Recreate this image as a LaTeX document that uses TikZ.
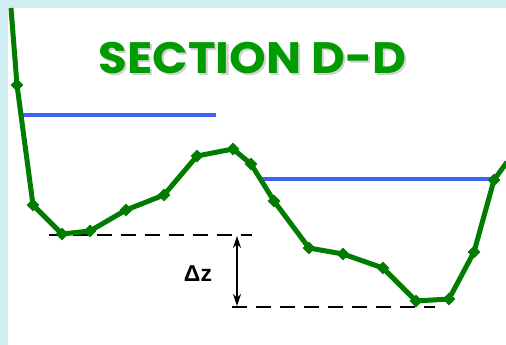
\documentclass[tikz,border=0pt]{standalone}
\usepackage{fontspec}
\setmainfont{Liberation Sans}
\newfontfamily\titlefont{Poppins}
\usetikzlibrary{shapes.geometric,arrows.meta}
\definecolor{bgcyan}{RGB}{208,238,242}
\definecolor{linegreen}{RGB}{0,125,0}
\definecolor{titlegreen}{RGB}{0,155,0}
\definecolor{waterblue}{RGB}{60,100,245}
\tikzset{
  mk/.style={diamond,fill=linegreen,inner sep=0pt,minimum size=13pt},
  bed/.style={draw=linegreen,line width=5pt,line join=round},
  water/.style={draw=waterblue,line width=4.6pt},
  datum/.style={draw=black,line width=2.8pt,dash pattern=on 15pt off 9pt},
  dimarrow/.style={draw=black,line width=1.2pt,{Stealth[length=12pt,width=8pt]}-{Stealth[length=12pt,width=8pt]}},
  titletext/.style={font=\titlefont\bfseries\fontsize{44}{44}\selectfont,xscale=1.06,inner sep=0pt}
}
\begin{document}
\begin{tikzpicture}[x=1pt,y=-1pt]
\useasboundingbox (0,0) rectangle (506,345);
\fill[bgcyan] (0,0) rectangle (506,345);
\fill[white] (8,8) rectangle (506,345);
% title with soft shadow
\node[titletext,text=titlegreen] (title) at (252.5,58.5)
  {\makebox[0pt][l]{\hspace{2pt}\raisebox{-2pt}{\textcolor{gray!35}{SECTION D-D}}}SECTION D-D};
% water levels
\coordinate (w1a) at (21,115); \coordinate (w1b) at (216,115);
\coordinate (w2a) at (259,179); \coordinate (w2b) at (494,179);
\draw[water] (w1a) -- (w1b);
\draw[water] (w2a) -- (w2b);
% datum lines
\coordinate (d1a) at (49,235); \coordinate (d1b) at (252,235);
\coordinate (d2a) at (232,307); \coordinate (d2b) at (435,307);
\draw[datum] (d1a) -- (d1b);
\draw[datum] (d2a) -- (d2b);
% bed profile points
\coordinate (s) at (11,8);
\coordinate (e) at (507,162);
\node[mk] (p1) at (17,85) {};
\node[mk] (p2) at (33,205) {};
\node[mk] (p3) at (62,234) {};
\node[mk] (p4) at (90,231) {};
\node[mk] (p5) at (126,210) {};
\node[mk] (p6) at (164,195) {};
\node[mk] (p7) at (197,156) {};
\node[mk] (p8) at (233,149) {};
\node[mk] (p9) at (251,164) {};
\node[mk] (p10) at (274,201) {};
\node[mk] (p11) at (309,248) {};
\node[mk] (p12) at (343,254) {};
\node[mk] (p13) at (383,268) {};
\node[mk] (p14) at (416,301) {};
\node[mk] (p15) at (449,299) {};
\node[mk] (p16) at (474,252) {};
\node[mk] (p17) at (494,180) {};
\draw[bed] (s) -- (p1.center) -- (p2.center) -- (p3.center) -- (p4.center) -- (p5.center) -- (p6.center) -- (p7.center) -- (p8.center) -- (p9.center) -- (p10.center) -- (p11.center) -- (p12.center) -- (p13.center) -- (p14.center) -- (p15.center) -- (p16.center) -- (p17.center) -- (e);
% dimension
\coordinate (a1) at (237,236); \coordinate (a2) at (237,306);
\draw[dimarrow] (a1) -- (a2);
\node[font=\bfseries\fontsize{23}{23}\selectfont,inner sep=0pt] (dz) at (198,274) {Δz};
\end{tikzpicture}
\end{document}
